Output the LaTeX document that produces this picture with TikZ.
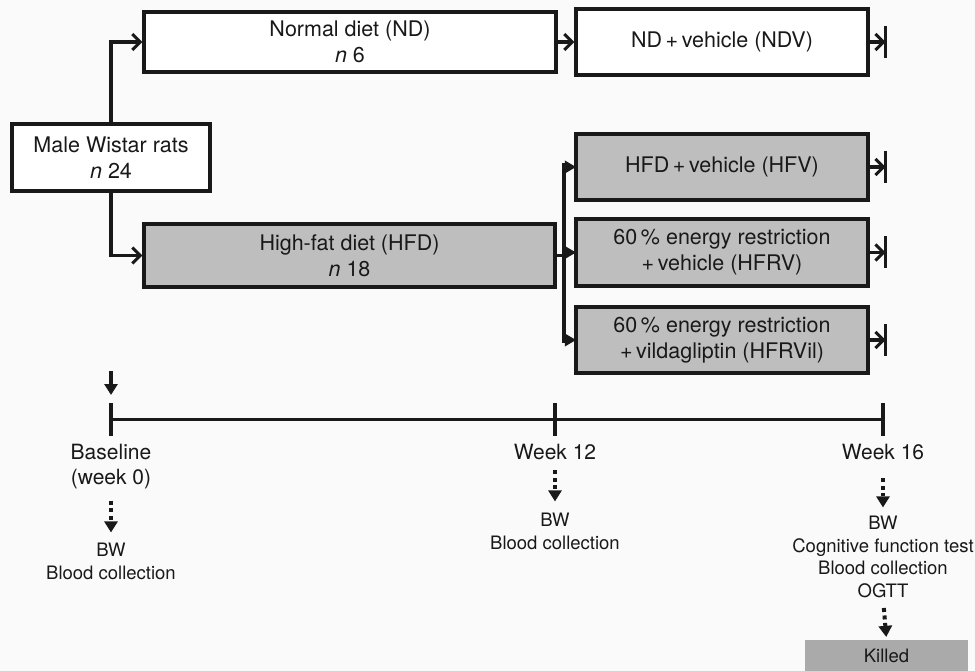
\documentclass[tikz,border=0pt]{standalone}
\usepackage{fontspec}
\setmainfont{TeX Gyre Heros}
\usetikzlibrary{arrows.meta,calc}
\definecolor{bg}{RGB}{250,250,250}
\definecolor{ink}{RGB}{25,25,25}
\definecolor{boxgrey}{RGB}{190,190,190}
\definecolor{killgrey}{RGB}{170,170,170}
\begin{document}
\begin{tikzpicture}[x=1pt,y=-1pt,
  every node/.style={inner sep=0pt, text=ink},
  box/.style={draw=ink, line width=3.2pt, align=center, font=\fontsize{21.5}{26}\selectfont},
  white box/.style={box, fill=white},
  grey box/.style={box, fill=boxgrey},
  conn/.style={draw=ink, line width=3.2pt},
  openarr/.style={conn, -{Straight Barb[length=8pt,width=16pt,line width=3pt]}},
  brarr/.style={draw=ink, line width=3.2pt, -{Triangle[length=11pt,width=13pt,line width=0pt]}},
  solidarr/.style={conn, -{Triangle[length=11pt,width=13pt]}},
  dotarr/.style={draw=ink, line width=4pt, dash pattern=on 4pt off 3.5pt, -{Triangle[length=11pt,width=14pt,line width=0pt]}},
  tl/.style={align=center, font=\fontsize{21}{25}\selectfont},
  sm/.style={align=center, font=\fontsize{18.5}{23}\selectfont},
  smb/.style={align=center, font=\fontsize{18.5}{22.5}\selectfont},
]
\fill[bg] (0,0) rectangle (975,671);
\useasboundingbox (0,0) rectangle (975,671);

% boxes
\node[white box, minimum width=198, minimum height=67] (rats) at (111,157.5) {Male Wistar rats\\\textit{n} 24};
\node[white box, minimum width=412, minimum height=60] (nd) at (350,42) {Normal diet (ND)\\\textit{n} 6};
\node[white box, minimum width=292, minimum height=66] (ndv) at (722,42) {ND\,+\,vehicle (NDV)};
\node[grey box, minimum width=411, minimum height=63] (hfd) at (349.5,255.5) {High-fat diet (HFD)\\\textit{n} 18};
\node[grey box, minimum width=292, minimum height=66] (hfv) at (722,167) {HFD\,+\,vehicle (HFV)};
\node[grey box, minimum width=292, minimum height=67] (hfrv) at (722,252.5) {60\,\% energy restriction\\+\,vehicle (HFRV)};
\node[grey box, minimum width=292, minimum height=66] (hfrvil) at (722,340) {60\,\% energy restriction\\+\,vildagliptin (HFRVil)};

% connectors
\draw[openarr] (rats.north) |- (nd.west);
\draw[openarr] (rats.south) |- (hfd.west);
\draw[openarr] (nd.east) -- (ndv.west);
\coordinate (br) at (564,255.5);
\coordinate (brtop) at (564,163);
\coordinate (brbot) at (564,343);
\draw[conn] (hfd.east) -- (br);
\draw[conn] (brtop) -- (brbot);
\draw[brarr] (br |- hfv.west) -- ([xshift=1.5pt]hfv.west);
\draw[brarr] (br |- hfrv.west) -- ([xshift=1.5pt]hfrv.west);
\draw[brarr] (br |- hfrvil.west) -- ([xshift=1.5pt]hfrvil.west);

% end bars
\foreach \b/\n in {ndv/e1,hfv/e2,hfrv/e3,hfrvil/e4}{
  \coordinate (\n) at ($(\b.east)+(16,0)$);
  \draw[openarr] (\b.east) -- (\n);
  \draw[conn] ($(\n)+(0,-16)$) -- ($(\n)+(0,16)$);
}

% timeline
\coordinate (t0) at (111,419.5);
\coordinate (t12) at (555,419.5);
\coordinate (t16) at (883,419.5);
\draw[conn] (t0) -- (t16);
\foreach \t in {t0,t12,t16}{
  \draw[conn] ($(\t)+(0,-16.5)$) -- ($(\t)+(0,16.5)$);
}
\coordinate (a0) at (111,371);
\coordinate (a1) at (111,395);
\draw[solidarr] (a0) -- (a1);

% labels
\node[tl, anchor=north] (lab0) at (111,444.4) {Baseline\\(week 0)};
\node[tl, anchor=north] (lab12) at (555,444.4) {Week 12};
\node[tl, anchor=north] (lab16) at (883,444.4) {Week 16};
\node[sm, anchor=north] (bw0) at (111,543.3) {BW\\Blood collection};
\node[sm, anchor=north] (bw12) at (555,513.3) {BW\\Blood collection};
\node[smb, anchor=north] (bw16) at (883,516.3) {BW\\Cognitive function test\\Blood collection\\OGTT};
\node[fill=killgrey, minimum width=163, minimum height=32, font=\fontsize{18.5}{22}\selectfont] (killed) at (886.5,656) {Killed};

% dotted arrows
\draw[dotarr, shorten <=11pt, shorten >=11pt] (lab0.south) -- (bw0.north);
\draw[dotarr, shorten <=10pt, shorten >=12pt] (lab12.south) -- (bw12.north);
\draw[dotarr, shorten <=18pt, shorten >=9pt] (lab16.south) -- (bw16.north);
\draw[dotarr, shorten <=10pt, shorten >=3pt] (bw16.south) -- (killed.north);
\end{tikzpicture}
\end{document}
